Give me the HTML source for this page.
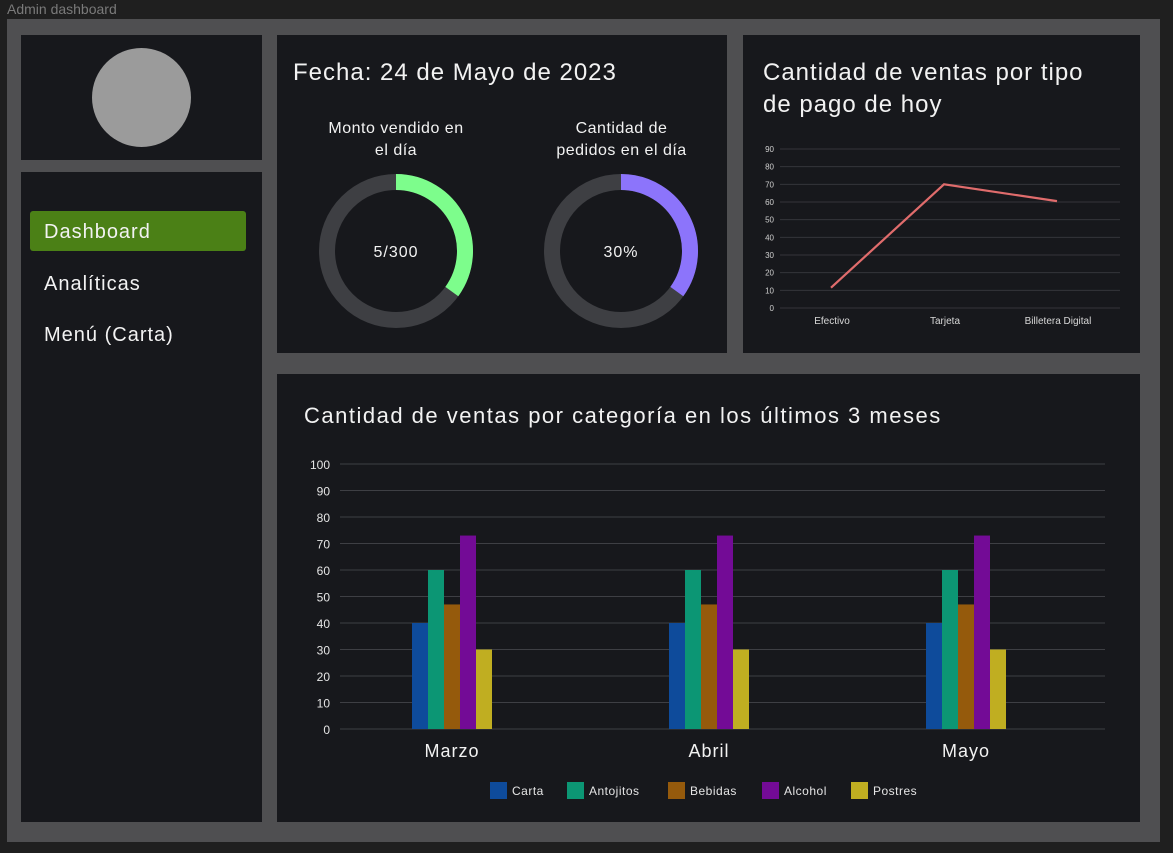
<!DOCTYPE html>
<html><head><meta charset="utf-8"><style>
body{margin:0;width:1173px;height:853px;background:#1f1f1f;overflow:hidden;font-family:"Liberation Sans",sans-serif;position:relative}
.a{position:absolute}
.p{position:absolute;background:#17181c}
.t{color:#f2f2f2}
</style></head><body>
<div class="a" style="left:7px;top:0;font-size:14px;color:#7a7a7a;line-height:18px">Admin dashboard</div>
<div class="a" style="left:7px;top:19px;width:1153px;height:823px;background:#4f4f51"></div>
<div class="p" style="left:21px;top:35px;width:241px;height:125px">
 <div class="a" style="left:71px;top:13px;width:99px;height:99px;border-radius:50%;background:#9b9b9b"></div>
</div>
<div class="p" style="left:21px;top:172px;width:241px;height:650px">
 <div class="a t" style="left:9px;top:39px;width:216px;height:40px;background:#4b8016;border-radius:3px;font-size:20px;line-height:42px;padding-left:14px;box-sizing:border-box;letter-spacing:1px">Dashboard</div>
 <div class="a t" style="left:23px;top:101px;font-size:20px;letter-spacing:1px">Analíticas</div>
 <div class="a t" style="left:23px;top:152px;font-size:20px;letter-spacing:1px">Menú (Carta)</div>
</div>
<div class="p" style="left:277px;top:35px;width:450px;height:318px">
 <div class="a t" style="left:16px;top:24px;font-size:24px;letter-spacing:1px">Fecha: 24 de Mayo de 2023</div>
 <div class="a t" style="left:44px;top:83px;width:150px;text-align:center;font-size:16px;line-height:22px;letter-spacing:.5px">Monto vendido en el día</div>
 <div class="a t" style="left:267px;top:83px;width:155px;text-align:center;font-size:16px;line-height:22px;letter-spacing:.5px">Cantidad de pedidos en el día</div>
 <svg class="a" style="left:0;top:0" width="450" height="318" id="donuts"></svg>
</div>
<div class="p" style="left:743px;top:35px;width:397px;height:318px">
 <div class="a t" style="left:20px;top:22px;font-size:24px;line-height:32px;letter-spacing:1px;width:345px">Cantidad de ventas por tipo de pago de hoy</div>
 <svg class="a" style="left:0;top:0" width="397" height="318" id="line"></svg>
</div>
<div class="p" style="left:277px;top:374px;width:863px;height:448px">
 <div class="a t" style="left:27px;top:29px;font-size:22px;letter-spacing:1.5px">Cantidad de ventas por categoría en los últimos 3 meses</div>
 <svg class="a" style="left:0;top:0" width="863" height="448" id="bars"></svg>
</div>
<script>
const NS="http://www.w3.org/2000/svg";
function mk(svg,tag,attrs,txt){const e=document.createElementNS(NS,tag);for(const k in attrs)e.setAttribute(k,attrs[k]);if(txt!=null)e.textContent=txt;svg.appendChild(e);return e;}

// donuts
const donutLabels=["5/300","30%"];
const donutFractions=[0.35,0.35];
const donutColors=["#7dfd8c","#8c74fb"];
const dsvg=document.getElementById('donuts');
donutFractions.forEach((f,i)=>{
 const cx=119+i*225,cy=216,r=69;
 let c=mk(dsvg,'circle',{cx,cy,r,fill:'none',stroke:'#3e3f43','stroke-width':16});
 
 
 const a=f*2*Math.PI;
 const x=cx+r*Math.sin(a),y=cy-r*Math.cos(a);
 let p=mk(dsvg,'path',{d:`M${cx} ${cy-r} A${r} ${r} 0 ${f>0.5?1:0} 1 ${x} ${y}`,fill:'none',stroke:donutColors[i],'stroke-width':16});
 
 
 let t=mk(dsvg,'text',{x:cx,y:cy+6,'text-anchor':'middle',fill:'#f2f2f2','font-size':16,'letter-spacing':1},donutLabels[i]);
 
 
});

// line chart
const payCategories=["Efectivo","Tarjeta","Billetera Digital"];
const payValues=[11.5,70,60.5];
const payTicks=[0,10,20,30,40,50,60,70,80,90];
const lsvg=document.getElementById('line');
const ly=v=>273-v*(159/90);
const lx=i=>88+i*113;
payTicks.forEach(v=>{
 let g=mk(lsvg,'line',{x1:37,x2:377,y1:ly(v),y2:ly(v),stroke:'#34353a','stroke-width':1});
 
 
 let t=mk(lsvg,'text',{x:31,y:ly(v)+3,'text-anchor':'end',fill:'#cfcfcf','font-size':8},String(v));
 
 
});
payCategories.forEach((c,i)=>{
 let t=mk(lsvg,'text',{x:lx(i)+1,y:289,'text-anchor':'middle',fill:'#d8d8d8','font-size':10},c);
 
 
});
let pl=mk(lsvg,'polyline',{points:payValues.map((v,i)=>lx(i)+','+ly(v)).join(' '),fill:'none',stroke:'#e06c6c','stroke-width':2.2});



// bar chart
const months=["Marzo","Abril","Mayo"];
const seriesNames=["Carta","Antojitos","Bebidas","Alcohol","Postres"];
const carta=[40,40,40];
const antojitos=[60,60,60];
const bebidas=[47,47,47];
const alcohol=[73,73,73];
const postres=[30,30,30];
const barTicks=[0,10,20,30,40,50,60,70,80,90,100];
const seriesData=[carta,antojitos,bebidas,alcohol,postres];
const colors=["#0e4b9b","#0c9674","#955a0c","#730b96","#c0ae21"];
const bsvg=document.getElementById('bars');
const by=v=>355-v*2.65;
const bx=i=>175+i*257;
barTicks.forEach(v=>{
 let g=mk(bsvg,'line',{x1:63,x2:828,y1:by(v),y2:by(v),stroke:'#3e3f44','stroke-width':1});
 
 
 let t=mk(bsvg,'text',{x:53,y:by(v)+5,'text-anchor':'end',fill:'#e5e5e5','font-size':12},String(v));
 
 
});
months.forEach((m,i)=>{
 seriesData.forEach((s,j)=>{
  let r=mk(bsvg,'rect',{x:bx(i)-40+j*16,y:by(s[i]),width:16,height:by(0)-by(s[i]),fill:colors[j]});
  
  
 });
 let t=mk(bsvg,'text',{x:bx(i),y:383,'text-anchor':'middle',fill:'#f2f2f2','font-size':18,'letter-spacing':1},m);
 
 
});
const legX=[213,290,391,485,574];
seriesNames.forEach((n,j)=>{
 let r=mk(bsvg,'rect',{x:legX[j],y:408,width:17,height:17,fill:colors[j]});
 
 
 let t=mk(bsvg,'text',{x:legX[j]+22,y:421,fill:'#e5e5e5','font-size':12,'letter-spacing':.5},n);
 
 
});
</script>
</body></html>
